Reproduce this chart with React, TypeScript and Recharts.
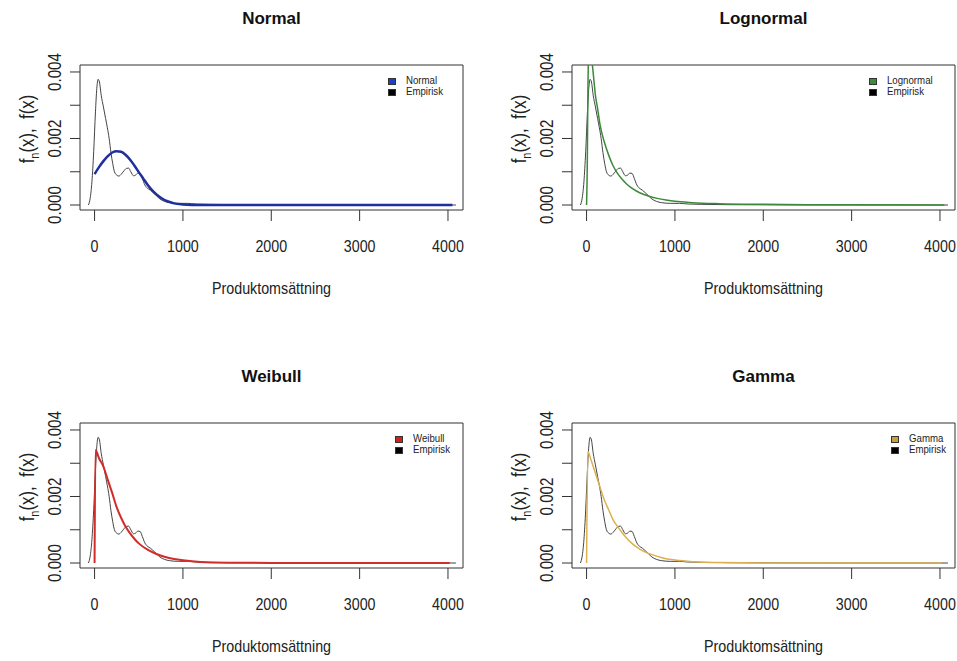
import React from "react";
import { LineChart, Line, XAxis, YAxis, ReferenceArea } from "recharts";

// empirical kernel density (same in all four panels)
const EMP_X = [-70, -50, -30, -10, 10, 25, 40, 55, 75, 100, 125, 145, 165, 185, 205, 225, 250, 275, 300, 330, 360, 385, 410, 440, 465, 490, 515, 540, 570, 600, 630, 660, 700, 740, 790, 850, 950, 1050, 1150, 1300, 1600, 2200, 3000, 4090];
const EMP_Y = [0, 0.0002, 0.0007, 0.0016, 0.0028, 0.0035, 0.00378, 0.0037, 0.0033, 0.00295, 0.0026, 0.00232, 0.002, 0.00158, 0.00125, 0.001, 0.0009, 0.00087, 0.00092, 0.00102, 0.0011, 0.00111, 0.001, 0.00088, 0.0009, 0.00096, 0.00095, 0.0008, 0.0006, 0.0005, 0.00045, 0.00038, 0.00028, 0.00018, 0.00011, 0.00007, 0.00005, 0.00005, 0.00003, 0.00002, 0.00001, 0.000003, 0, 0];

const NORM_X = [0, 50, 100, 150, 200, 250, 300, 350, 400, 450, 500, 550, 600, 650, 700, 750, 800, 850, 900, 1000, 1100, 1300, 4050];
const NORM_Y = [0.00093, 0.00114, 0.00132, 0.00147, 0.00158, 0.00162, 0.0016, 0.00151, 0.00137, 0.00119, 0.00099, 0.0008, 0.00061, 0.00045, 0.00032, 0.00022, 0.00014, 0.00009, 0.00005, 0.000017, 0.000004, 0, 0];

const LNORM_X = [0, 8, 15, 25, 40, 55, 70, 85, 100, 125, 150, 200, 250, 300, 350, 400, 450, 500, 600, 700, 800, 900, 1000, 1200, 1500, 2000, 2500, 3000, 4050];
const LNORM_Y = [0, 0.0012, 0.0034, 0.0046, 0.0048, 0.0045, 0.0041, 0.0037, 0.0033, 0.0029, 0.00245, 0.0019, 0.0015, 0.00118, 0.00095, 0.00078, 0.00064, 0.00053, 0.00037, 0.00027, 0.0002, 0.00015, 0.00011, 0.00007, 0.00004, 0.00002, 0.00001, 0.000005, 0.000002];

const WEIB_X = [0, 10, 50, 100, 150, 200, 250, 300, 350, 400, 450, 500, 600, 700, 800, 900, 1000, 1200, 1500, 2000, 4020];
const WEIB_Y = [0, 0.0034, 0.00315, 0.0029, 0.0025, 0.0021, 0.00168, 0.00136, 0.0011, 0.0009, 0.00073, 0.00059, 0.0004, 0.00027, 0.00018, 0.00012, 0.00008, 0.00003, 0.00001, 0.000002, 0];

const GAMMA_X = [0, 15, 50, 100, 150, 200, 250, 300, 350, 400, 450, 500, 600, 700, 800, 900, 1000, 1200, 1500, 2000, 4020];
const GAMMA_Y = [0, 0.00335, 0.0031, 0.0027, 0.0023, 0.0019, 0.0016, 0.0013, 0.0011, 0.00092, 0.00076, 0.00062, 0.00042, 0.00029, 0.0002, 0.00013, 0.00009, 0.00004, 0.000012, 0.000002, 0];

const X_TICKS = [0, 1000, 2000, 3000, 4000];
const Y_TICKS = [0, 0.001, 0.002, 0.003, 0.004];
const Y_LABELS = ["0.000", "", "0.002", "", "0.004"];

const X_DOMAIN = [-165, 4170];
const Y_DOMAIN = [-0.00015, 0.00421];

const zip = (xs: number[], ys: number[]) => xs.map((x, i) => ({ x, y: ys[i] }));

const SANS = '"Liberation Sans", Arial, sans-serif';
const NARROW = 0.84;

const panels = [
  { title: "Normal", color: "#1f2f9c", legend: "#1f3fc8", width: 2.5, xs: NORM_X, ys: NORM_Y, left: 80, top: 65, legendOffset: 57 },
  { title: "Lognormal", color: "#3a8a3a", legend: "#3c8c3c", width: 1.5, xs: LNORM_X, ys: LNORM_Y, left: 572, top: 65, legendOffset: 68 },
  { title: "Weibull", color: "#d42a2a", legend: "#d02020", width: 2, xs: WEIB_X, ys: WEIB_Y, left: 80, top: 423, legendOffset: 50 },
  { title: "Gamma", color: "#dcb050", legend: "#c9a040", width: 1.5, xs: GAMMA_X, ys: GAMMA_Y, left: 572, top: 423, legendOffset: 46 },
];

const BOX_W = 383;
const BOX_H = 145;
const Y_AXIS_W = 60;
const TOP_PAD = 25;

function XTick({ x, y, payload }: any) {
  return (
    <text transform={`translate(${x} ${y}) scale(${NARROW} 1)`} dy="0.71em" textAnchor="middle" fill="#222" fontSize={17} fontFamily={SANS}>
      {payload.value}
    </text>
  );
}

function YTick({ x, y, index }: any) {
  const label = Y_LABELS[index] ?? "";
  if (!label) return null;
  return (
    <text transform={`translate(${x} ${y}) rotate(-90) scale(${NARROW} 1)`} textAnchor="middle" fill="#222" fontSize={18} fontFamily={SANS}>
      {label}
    </text>
  );
}

function Panel({ p }: { p: (typeof panels)[number] }) {
  const emp = zip(EMP_X, EMP_Y);
  const fit = zip(p.xs, p.ys);
  const boxRight = p.left + BOX_W;
  return (
    <>
      <div style={{ position: "absolute", left: p.left, width: BOX_W, top: p.top - 56, textAlign: "center", fontFamily: SANS, fontWeight: 700, fontSize: 17, color: "#111" }}>
        {p.title}
      </div>
      <div style={{ position: "absolute", left: p.left, width: BOX_W, top: p.top + BOX_H + 69, textAlign: "center", fontFamily: SANS, fontSize: 17, color: "#222", transform: `scaleX(${NARROW})` }}>
        Produktomsättning
      </div>
      <div style={{ position: "absolute", left: p.left - 51 - 70, top: p.top + 62 - 11, width: 140, textAlign: "center", transform: `rotate(-90deg) scaleX(${NARROW})`, fontFamily: SANS, fontSize: 20, color: "#222", whiteSpace: "nowrap" }}>
        f<sub style={{ fontSize: 13 }}>n</sub>(x),&nbsp; f(x)
      </div>
      <div style={{ position: "absolute", left: p.left - Y_AXIS_W, top: p.top - TOP_PAD }}>
        <LineChart width={Y_AXIS_W + BOX_W + 25} height={TOP_PAD + BOX_H + 50} margin={{ top: TOP_PAD, right: 25, left: 0, bottom: 0 }}>
          <XAxis type="number" dataKey="x" domain={X_DOMAIN} ticks={X_TICKS} allowDataOverflow axisLine={false} tickSize={11} tickMargin={19} tickLine={{ stroke: "#333" }} tick={<XTick />} height={50} />
          <YAxis type="number" dataKey="y" domain={Y_DOMAIN} ticks={Y_TICKS} allowDataOverflow axisLine={false} tickSize={10} tickMargin={9} tickLine={{ stroke: "#333" }} tick={<YTick />} width={Y_AXIS_W} />
          <ReferenceArea x1={X_DOMAIN[0]} x2={X_DOMAIN[1]} y1={Y_DOMAIN[0]} y2={Y_DOMAIN[1]} fill="none" stroke="#333" strokeWidth={1} />
          <Line data={emp} dataKey="y" type="monotone" stroke="#444" strokeWidth={1} dot={false} isAnimationActive={false} />
          <Line data={fit} dataKey="y" type="monotone" stroke={p.color} strokeWidth={p.width} dot={false} isAnimationActive={false} />
        </LineChart>
      </div>
      <div style={{ position: "absolute", left: boxRight - p.legendOffset - 18, top: p.top + 13, width: 6, height: 5, background: p.legend, border: "0.5px solid #333" }} />
      <div style={{ position: "absolute", left: boxRight - p.legendOffset - 18, top: p.top + 24, width: 6, height: 5, background: "#000", border: "0.5px solid #333" }} />
      <div style={{ position: "absolute", left: boxRight - p.legendOffset, top: p.top + 10, fontFamily: SANS, fontSize: 11.5, lineHeight: "11px", color: "#222", transform: `scaleX(${NARROW})`, transformOrigin: "left top" }}>
        {p.title}
        <br />
        Empirisk
      </div>
    </>
  );
}

export default function App() {
  return (
    <div style={{ position: "absolute", left: 0, top: 0, width: 957, height: 661, background: "#fff", overflow: "hidden" }}>
      {panels.map((p) => (
        <Panel key={p.title} p={p} />
      ))}
    </div>
  );
}
